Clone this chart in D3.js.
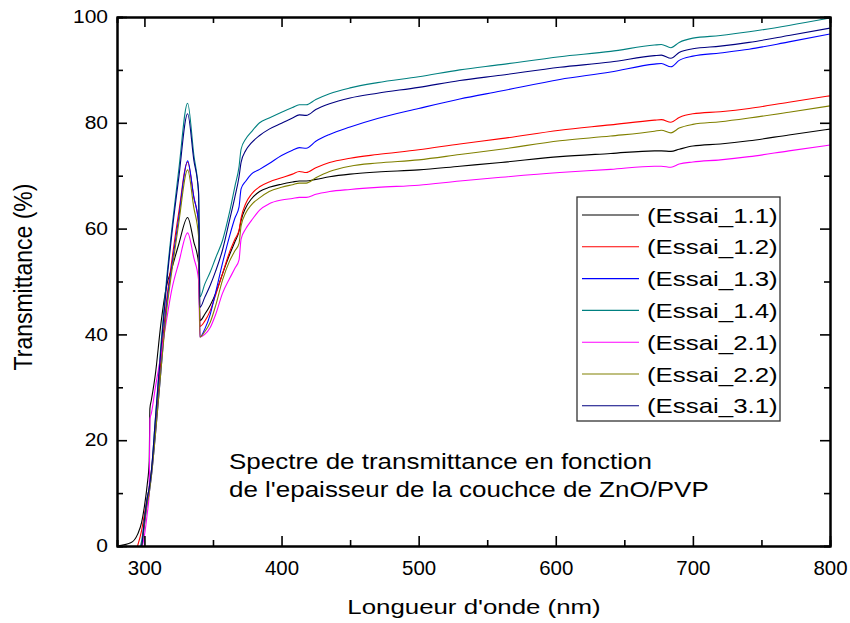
<!DOCTYPE html>
<html>
<head>
<meta charset="utf-8">
<script src="https://cdn.jsdelivr.net/npm/d3@7"></script>
<style>
  body { margin: 0; background: #fff; }
  text { font-family: Arial, "Liberation Sans", sans-serif; fill: #000; }
</style>
</head>
<body>
<div id="chart"></div>
<script>
// Longueurs d'onde (nm) communes a toutes les series
const wavelengths = [280, 290, 295, 298, 300, 302, 303.5, 304, 305, 308,
  312, 316, 320, 325, 331.5, 336, 339.5, 340.5, 344, 348,
  352, 357, 362, 366, 369, 370.5, 374, 378, 384, 391,
  400, 408, 413, 418, 425, 435, 450, 470, 500, 530,
  560, 603, 640, 672, 677, 684, 690, 700, 720, 741,
  770, 800];

// Transmittance (%)
const essai11 = [0, 0.6, 2.2, 4.5, 7.5, 11.5, 16, 26, 27.5, 32.5,
  42, 49, 52.5, 57, 62.1, 57.5, 53.5, 42.6, 43.8, 45.5,
  47.8, 51.5, 55, 57.5, 59.5, 61.5, 64, 65.6, 67, 67.8,
  68.4, 68.8, 69, 69, 69.3, 69.8, 70.3, 70.7, 71.1, 71.8,
  72.5, 73.6, 74.2, 74.7, 74.7, 74.6, 75.0, 75.6, 76.0, 76.6,
  77.7, 78.8];
const essai12 = [-4, -3, 0, 3, 6, 9, 11, 12, 14, 22,
  35, 46, 54, 63, 72.6, 66, 61, 41.5, 42.5, 44.5,
  47.5, 51.5, 55.5, 58, 59.7, 62, 64.8, 66.5, 67.9, 68.8,
  69.6, 70.3, 70.8, 70.6, 71.5, 72.5, 73.3, 74.0, 74.9, 76.0,
  77.0, 78.6, 79.6, 80.5, 80.6, 80.1, 81.0, 81.7, 82.1, 82.7,
  83.9, 85.1];
const essai13 = [-5, -4, -2, 0, 4, 8, 10, 11, 13, 21,
  33, 45, 53, 62, 72.8, 66, 61, 39.5, 41, 43.8,
  48, 53.5, 58.5, 62, 64.1, 67.5, 69, 70.3, 71.2, 72.3,
  73.8, 74.8, 75.3, 75.2, 76.5, 77.8, 79.2, 80.8, 82.7, 84.5,
  86.0, 88.2, 89.6, 91.1, 91.2, 90.6, 91.8, 92.6, 93.2, 93.9,
  95.3, 96.8];
const essai14 = [-5, -4, -1.5, 1, 5, 9, 11, 12, 14, 24,
  38, 50, 60, 71, 83.7, 74, 66.5, 47.1, 49.5, 51.8,
  54.5, 57.8, 63, 68, 71.7, 75, 77, 78.3, 80.0, 80.9,
  82.0, 82.9, 83.4, 83.4, 84.4, 85.5, 86.6, 87.6, 88.7, 90.0,
  91.0, 92.5, 93.5, 94.7, 94.8, 94.2, 95.2, 96.0, 96.5, 97.2,
  98.4, 99.8];
const essai21 = [-5, -4, -2, -0.5, 2, 6, 10, 24, 25, 30,
  36, 42.5, 48.5, 53.5, 59.2, 54.5, 50.3, 39.5, 40, 41.3,
  43.8, 47.8, 50.5, 52.5, 54.1, 58, 60, 61.5, 63.5, 64.7,
  65.4, 65.7, 65.9, 65.9, 66.5, 67.0, 67.4, 67.8, 68.2, 69.0,
  69.7, 70.6, 71.2, 71.8, 71.8, 71.6, 72.2, 72.6, 73.0, 73.6,
  74.7, 75.8];
const essai22 = [-5, -4, -2, 0, 4, 8, 10, 11, 13, 21,
  33, 44, 52, 61, 71.1, 64, 58.5, 39.5, 40.5, 42.3,
  45.5, 50.3, 53.8, 55.8, 57.2, 60.5, 63, 64.5, 65.8, 67.0,
  67.8, 68.3, 68.6, 68.6, 69.6, 70.8, 71.8, 72.4, 73.0, 74.0,
  75.0, 76.6, 77.5, 78.4, 78.6, 78.1, 79.0, 79.7, 80.2, 80.9,
  82.0, 83.2];
const essai31 = [-5, -4, -2, 0, 5, 9, 11, 12, 14, 24,
  37, 49, 59, 69.5, 81.7, 73, 67, 45.1, 47, 49.3,
  52, 56, 61.5, 66, 69.8, 72.5, 74.8, 76.2, 77.6, 78.8,
  79.9, 80.9, 81.5, 81.4, 82.5, 83.6, 84.7, 85.6, 86.7, 88.0,
  89.0, 90.5, 91.5, 92.7, 92.8, 92.2, 93.3, 94.0, 94.5, 95.2,
  96.5, 97.9];

const seriesNames = ["(Essai_1.1)", "(Essai_1.2)", "(Essai_1.3)", "(Essai_1.4)",
  "(Essai_2.1)", "(Essai_2.2)", "(Essai_3.1)"];
const seriesValues = [essai11, essai12, essai13, essai14, essai21, essai22, essai31];
const seriesColors = ["#000000", "#ff0000", "#0000ff", "#008080", "#ff00ff", "#808000", "#000080"];

const xTicks = [300, 400, 500, 600, 700, 800];
const xMinor = [350, 450, 550, 650, 750];
const yTicks = [0, 20, 40, 60, 80, 100];
const yMinor = [10, 30, 50, 70, 90];

// Dimensions
const W = 850, H = 623;
const margin = { top: 17, right: 20, bottom: 77, left: 117 };
const width = W - margin.left - margin.right;
const height = H - margin.top - margin.bottom;
const STRETCH = 1.2; // le texte de l'original est etire horizontalement

const svg = d3.select("#chart").append("svg")
  .attr("width", W).attr("height", H);
svg.append("rect").attr("width", W).attr("height", H).attr("fill", "#fff");

const g = svg.append("g").attr("transform", `translate(${margin.left},${margin.top})`);

const x = d3.scaleLinear().domain([280, 800]).range([0, width]);
const y = d3.scaleLinear().domain([0, 100]).range([height, 0]);

function stretch(sel, k) {
  sel.each(function () {
    const w = this.getComputedTextLength();
    d3.select(this).attr("textLength", w * k).attr("lengthAdjust", "spacingAndGlyphs");
  });
}

// Courbes
g.append("clipPath").attr("id", "clip")
  .append("rect").attr("width", width).attr("height", height);

const line = d3.line()
  .x(d => x(d[0]))
  .y(d => y(d[1]))
  .curve(d3.curveMonotoneX);

seriesValues.forEach((vals, i) => {
  g.append("path")
    .datum(wavelengths.map((w, j) => [w, vals[j]]))
    .attr("clip-path", "url(#clip)")
    .attr("fill", "none")
    .attr("stroke", seriesColors[i])
    .attr("stroke-width", 1.1)
    .attr("d", line);
});

// Axes (graduations vers l'interieur sur les 4 cotes)
function styleAxis(sel) {
  sel.select(".domain").attr("stroke", "#000").attr("stroke-width", 2);
  sel.selectAll(".tick line").attr("stroke", "#000").attr("stroke-width", 1.6);
  sel.selectAll(".tick text").attr("font-size", 17.5).attr("fill", "#000");
}

const xAxis = g.append("g").attr("transform", `translate(0,${height})`)
  .call(d3.axisBottom(x).tickValues(xTicks).tickSizeInner(-10).tickSizeOuter(0).tickPadding(15))
  .call(styleAxis);
g.append("g").attr("transform", `translate(0,${height})`)
  .call(d3.axisBottom(x).tickValues(xMinor).tickSize(-6).tickFormat(""))
  .call(styleAxis);
g.append("g")
  .call(d3.axisTop(x).tickValues(xTicks).tickSizeInner(-10).tickSizeOuter(0).tickFormat(""))
  .call(styleAxis);
g.append("g")
  .call(d3.axisTop(x).tickValues(xMinor).tickSize(-6).tickFormat(""))
  .call(styleAxis);

const yAxis = g.append("g")
  .call(d3.axisLeft(y).tickValues(yTicks).tickSizeInner(-10).tickSizeOuter(0).tickPadding(9))
  .call(styleAxis);
g.append("g")
  .call(d3.axisLeft(y).tickValues(yMinor).tickSize(-6).tickFormat(""))
  .call(styleAxis);
g.append("g").attr("transform", `translate(${width},0)`)
  .call(d3.axisRight(y).tickValues(yTicks).tickSizeInner(-10).tickSizeOuter(0).tickFormat(""))
  .call(styleAxis);
g.append("g").attr("transform", `translate(${width},0)`)
  .call(d3.axisRight(y).tickValues(yMinor).tickSize(-6).tickFormat(""))
  .call(styleAxis);

xAxis.selectAll(".tick text").attr("font-size", 19.5).call(stretch, 1.05);
yAxis.selectAll(".tick text").call(stretch, STRETCH);

// Titres des axes
svg.append("text")
  .attr("x", 474).attr("y", 614)
  .attr("text-anchor", "middle")
  .attr("font-size", 21)
  .text("Longueur d'onde (nm)")
  .call(stretch, 1.23);

svg.append("text")
  .attr("transform", "translate(31.5,277) scale(1.1,1) rotate(-90)")
  .attr("text-anchor", "middle")
  .attr("font-size", 23)
  .text("Transmittance (%)");

// Annotation
const note = ["Spectre de transmittance en fonction", "de l'epaisseur de la couchce de ZnO/PVP"];
note.forEach((t, i) => {
  svg.append("text")
    .attr("x", 229).attr("y", 469 + i * 28)
    .attr("font-size", 22)
    .text(t)
    .call(stretch, 1.18);
});

// Legende
const legend = svg.append("g").attr("transform", "translate(577,197)");
legend.append("rect")
  .attr("width", 203).attr("height", 224)
  .attr("fill", "#fff").attr("stroke", "#333").attr("stroke-width", 1.3);

seriesNames.forEach((name, i) => {
  const cy = 18 + i * 31.8;
  legend.append("line")
    .attr("x1", 5).attr("x2", 62).attr("y1", cy).attr("y2", cy)
    .attr("stroke", seriesColors[i]).attr("stroke-width", 1.1);
  legend.append("text")
    .attr("x", 70).attr("y", cy + 7.5)
    .attr("font-size", 21)
    .text(name)
    .call(stretch, 1.23);
});
</script>
</body>
</html>
